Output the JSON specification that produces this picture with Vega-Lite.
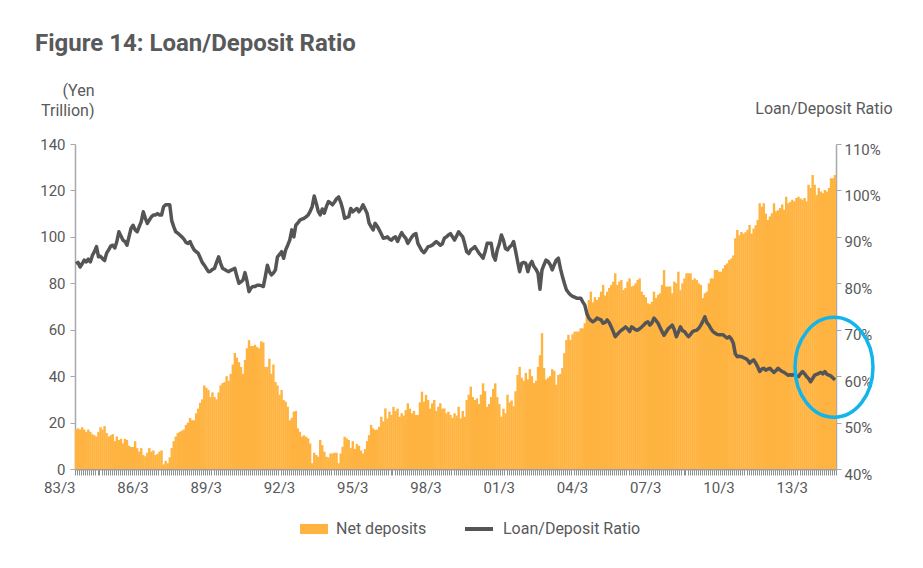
{
"$schema": "https://vega.github.io/schema/vega-lite/v6.json",
"width": 761, "height": 325,
"autosize": {"type": "none"},
"padding": {"left": 75, "top": 144, "right": 87, "bottom": 99},
"background": "white",
"config": {"view": {"stroke": null}, "font": "Roboto",
  "axis": {"labelFont": "Roboto", "titleFont": "Roboto", "labelColor": "#58595B", "titleColor": "#58595B", "grid": false, "domainColor": "#A7A9AC", "tickColor": "#A7A9AC", "domainWidth": 1.5, "labelFontSize": 15, "titleFontSize": 16, "titleFontWeight": "normal"},
  "legend": {"labelFont": "Roboto", "labelColor": "#58595B", "labelFontSize": 16}},
"title": {"text": "Figure 14: Loan/Deposit Ratio", "anchor": "start", "frame": "group", "dx": -40, "offset": 26, "fontSize": 24, "fontWeight": "bold", "color": "#58595B", "font": "Roboto"},
"data": {"values": [
{"d":"1983-03","n":17,"r":84.2},{"d":"1983-04","n":17.5,"r":84.5},{"d":"1983-05","n":17,"r":83.5},{"d":"1983-06","n":18,"r":84.2},{"d":"1983-07","n":17,"r":85},{"d":"1983-08","n":16,"r":84.6},{"d":"1983-09","n":17,"r":85.2},{"d":"1983-10","n":16,"r":84.6},{"d":"1983-11","n":15,"r":86},{"d":"1983-12","n":14.5,"r":86.8},
{"d":"1984-01","n":14,"r":87.9},{"d":"1984-02","n":16,"r":85.7},{"d":"1984-03","n":18,"r":85.8},{"d":"1984-04","n":17,"r":85.3},{"d":"1984-05","n":18.5,"r":84.9},{"d":"1984-06","n":15.5,"r":86.5},{"d":"1984-07","n":14,"r":87.2},{"d":"1984-08","n":14.5,"r":88},{"d":"1984-09","n":15,"r":88.2},{"d":"1984-10","n":12,"r":87.6},{"d":"1984-11","n":14,"r":89},{"d":"1984-12","n":12.5,"r":91.1},
{"d":"1985-01","n":13,"r":90.2},{"d":"1985-02","n":11,"r":89.3},{"d":"1985-03","n":13,"r":89},{"d":"1985-04","n":12.5,"r":88.2},{"d":"1985-05","n":10,"r":90},{"d":"1985-06","n":9.5,"r":91.8},{"d":"1985-07","n":9.5,"r":92.5},{"d":"1985-08","n":12,"r":91.5},{"d":"1985-09","n":9,"r":91.1},{"d":"1985-10","n":7.5,"r":92.2},{"d":"1985-11","n":9,"r":93.3},{"d":"1985-12","n":6,"r":95.4},
{"d":"1986-01","n":5.5,"r":94},{"d":"1986-02","n":7,"r":92.9},{"d":"1986-03","n":9,"r":93.6},{"d":"1986-04","n":7.5,"r":94.3},{"d":"1986-05","n":8,"r":94.7},{"d":"1986-06","n":6,"r":94.7},{"d":"1986-07","n":6.5,"r":95},{"d":"1986-08","n":7.5,"r":94.7},{"d":"1986-09","n":8,"r":94.7},{"d":"1986-10","n":2,"r":96.5},{"d":"1986-11","n":3.5,"r":96.9},{"d":"1986-12","n":2.5,"r":96.9},
{"d":"1987-01","n":5,"r":96.9},{"d":"1987-02","n":9,"r":93.5},{"d":"1987-03","n":12,"r":92.2},{"d":"1987-04","n":14,"r":91.1},{"d":"1987-05","n":15.5,"r":90.8},{"d":"1987-06","n":16,"r":90.4},{"d":"1987-07","n":16.5,"r":90},{"d":"1987-08","n":17,"r":89.5},{"d":"1987-09","n":19,"r":88.8},{"d":"1987-10","n":20,"r":88.6},{"d":"1987-11","n":22,"r":89},{"d":"1987-12","n":21,"r":88},
{"d":"1988-01","n":21,"r":87.2},{"d":"1988-02","n":24,"r":86.8},{"d":"1988-03","n":26,"r":86.5},{"d":"1988-04","n":28.5,"r":85.5},{"d":"1988-05","n":30,"r":84.5},{"d":"1988-06","n":36,"r":83.9},{"d":"1988-07","n":35,"r":83.2},{"d":"1988-08","n":34,"r":82.5},{"d":"1988-09","n":31,"r":82.6},{"d":"1988-10","n":33,"r":83},{"d":"1988-11","n":31,"r":83.2},{"d":"1988-12","n":30,"r":84.5},
{"d":"1989-01","n":33,"r":85.7},{"d":"1989-02","n":36,"r":84.3},{"d":"1989-03","n":37,"r":83.2},{"d":"1989-04","n":37.5,"r":83},{"d":"1989-05","n":40,"r":82.7},{"d":"1989-06","n":38,"r":82.5},{"d":"1989-07","n":41,"r":82.8},{"d":"1989-08","n":45,"r":83},{"d":"1989-09","n":50,"r":83.2},{"d":"1989-10","n":48,"r":81.5},{"d":"1989-11","n":46,"r":80},{"d":"1989-12","n":44,"r":80.3},
{"d":"1990-01","n":41,"r":80.7},{"d":"1990-02","n":47,"r":82.3},{"d":"1990-03","n":52,"r":80.5},{"d":"1990-04","n":55.5,"r":78.2},{"d":"1990-05","n":53,"r":79},{"d":"1990-06","n":53,"r":79.3},{"d":"1990-07","n":53.5,"r":79.3},{"d":"1990-08","n":52.5,"r":79.6},{"d":"1990-09","n":52,"r":79.6},{"d":"1990-10","n":55,"r":79.5},{"d":"1990-11","n":54.5,"r":79.3},{"d":"1990-12","n":44,"r":81.5},
{"d":"1991-01","n":44,"r":83.9},{"d":"1991-02","n":47.5,"r":82.5},{"d":"1991-03","n":41,"r":81.8},{"d":"1991-04","n":45,"r":82.2},{"d":"1991-05","n":37.5,"r":82.9},{"d":"1991-06","n":36,"r":85.7},{"d":"1991-07","n":32,"r":86.2},{"d":"1991-08","n":34,"r":86.8},{"d":"1991-09","n":29.7,"r":85.4},{"d":"1991-10","n":29,"r":87.2},{"d":"1991-11","n":26.8,"r":88.2},{"d":"1991-12","n":21,"r":89.3},
{"d":"1992-01","n":22,"r":91.5},{"d":"1992-02","n":24.7,"r":90},{"d":"1992-03","n":25,"r":92.5},{"d":"1992-04","n":17.5,"r":93},{"d":"1992-05","n":16,"r":93.6},{"d":"1992-06","n":14,"r":93.8},{"d":"1992-07","n":14.5,"r":94},{"d":"1992-08","n":13.9,"r":94.3},{"d":"1992-09","n":13.2,"r":94.7},{"d":"1992-10","n":11,"r":95.5},{"d":"1992-11","n":2.5,"r":96.5},{"d":"1992-12","n":7,"r":98.8},
{"d":"1993-01","n":6,"r":97.2},{"d":"1993-02","n":5.3,"r":95.5},{"d":"1993-03","n":12.5,"r":94.7},{"d":"1993-04","n":10.3,"r":96},{"d":"1993-05","n":7.5,"r":95.1},{"d":"1993-06","n":5.3,"r":96.5},{"d":"1993-07","n":5,"r":97.6},{"d":"1993-08","n":6.7,"r":97.3},{"d":"1993-09","n":6.7,"r":96.9},{"d":"1993-10","n":7,"r":97.5},{"d":"1993-11","n":7,"r":98.2},{"d":"1993-12","n":2.5,"r":98.6},
{"d":"1994-01","n":6.7,"r":97.5},{"d":"1994-02","n":9.6,"r":96},{"d":"1994-03","n":13.9,"r":94},{"d":"1994-04","n":13.2,"r":94.2},{"d":"1994-05","n":12.5,"r":94.3},{"d":"1994-06","n":9,"r":96.1},{"d":"1994-07","n":12,"r":95.4},{"d":"1994-08","n":8.6,"r":95.8},{"d":"1994-09","n":10.8,"r":96.1},{"d":"1994-10","n":10,"r":95.4},{"d":"1994-11","n":8,"r":96},{"d":"1994-12","n":6.7,"r":96.9},
{"d":"1995-01","n":8.6,"r":96},{"d":"1995-02","n":12,"r":95.1},{"d":"1995-03","n":14.6,"r":93},{"d":"1995-04","n":19,"r":92.2},{"d":"1995-05","n":17.5,"r":91.5},{"d":"1995-06","n":16.8,"r":92.9},{"d":"1995-07","n":17,"r":92.3},{"d":"1995-08","n":18.2,"r":91.5},{"d":"1995-09","n":22.5,"r":90.6},{"d":"1995-10","n":20.5,"r":89.7},{"d":"1995-11","n":26.1,"r":89.8},{"d":"1995-12","n":21.8,"r":90},
{"d":"1996-01","n":24.7,"r":89.5},{"d":"1996-02","n":23.3,"r":89.3},{"d":"1996-03","n":26.8,"r":89.8},{"d":"1996-04","n":25,"r":90},{"d":"1996-05","n":26,"r":89},{"d":"1996-06","n":22.5,"r":90},{"d":"1996-07","n":24,"r":90.9},{"d":"1996-08","n":23,"r":90.2},{"d":"1996-09","n":25.4,"r":89.7},{"d":"1996-10","n":28.3,"r":88.6},{"d":"1996-11","n":26,"r":89.3},{"d":"1996-12","n":24,"r":90},
{"d":"1997-01","n":25,"r":90.5},{"d":"1997-02","n":23.3,"r":90.7},{"d":"1997-03","n":23.3,"r":88.6},{"d":"1997-04","n":28.7,"r":87.8},{"d":"1997-05","n":33.3,"r":87},{"d":"1997-06","n":29,"r":86.6},{"d":"1997-07","n":31.9,"r":87.2},{"d":"1997-08","n":29.7,"r":87.9},{"d":"1997-09","n":26,"r":88},{"d":"1997-10","n":28.3,"r":88.2},{"d":"1997-11","n":29.7,"r":88.6},{"d":"1997-12","n":25,"r":89},
{"d":"1998-01","n":26.8,"r":88.6},{"d":"1998-02","n":28.3,"r":88.2},{"d":"1998-03","n":26,"r":88.5},{"d":"1998-04","n":26.1,"r":89.7},{"d":"1998-05","n":24,"r":90},{"d":"1998-06","n":24.7,"r":90.4},{"d":"1998-07","n":23.3,"r":90.7},{"d":"1998-08","n":22,"r":90},{"d":"1998-09","n":24,"r":89.3},{"d":"1998-10","n":23,"r":90.2},{"d":"1998-11","n":26.8,"r":91.1},{"d":"1998-12","n":21.8,"r":90.5},
{"d":"1999-01","n":25,"r":90},{"d":"1999-02","n":22.5,"r":88.5},{"d":"1999-03","n":29.7,"r":86.8},{"d":"1999-04","n":32,"r":86.4},{"d":"1999-05","n":35.5,"r":87.2},{"d":"1999-06","n":31,"r":87.5},{"d":"1999-07","n":29.7,"r":87.9},{"d":"1999-08","n":30.4,"r":87.2},{"d":"1999-09","n":28,"r":86.5},{"d":"1999-10","n":32,"r":86},{"d":"1999-11","n":36.9,"r":85.4},{"d":"1999-12","n":33.5,"r":86.8},
{"d":"2000-01","n":26.8,"r":88.6},{"d":"2000-02","n":28,"r":88.6},{"d":"2000-03","n":31,"r":88.6},{"d":"2000-04","n":34.5,"r":86},{"d":"2000-05","n":36.9,"r":85},{"d":"2000-06","n":31,"r":87.2},{"d":"2000-07","n":28,"r":88.5},{"d":"2000-08","n":22.5,"r":90.4},{"d":"2000-09","n":26,"r":89.3},{"d":"2000-10","n":24,"r":87.5},{"d":"2000-11","n":32,"r":87.2},{"d":"2000-12","n":28.7,"r":87.8},
{"d":"2001-01","n":29.5,"r":88.2},{"d":"2001-02","n":27,"r":89},{"d":"2001-03","n":33.5,"r":87},{"d":"2001-04","n":40.5,"r":84.7},{"d":"2001-05","n":44,"r":82.5},{"d":"2001-06","n":39.3,"r":84.3},{"d":"2001-07","n":38,"r":84.5},{"d":"2001-08","n":41.4,"r":84.3},{"d":"2001-09","n":38.6,"r":82.5},{"d":"2001-10","n":43,"r":84},{"d":"2001-11","n":40,"r":84.7},{"d":"2001-12","n":37,"r":83.6},
{"d":"2002-01","n":38,"r":83},{"d":"2002-02","n":44,"r":82.2},{"d":"2002-03","n":49,"r":78.7},{"d":"2002-04","n":58.5,"r":82.9},{"d":"2002-05","n":43.5,"r":84},{"d":"2002-06","n":38.6,"r":85},{"d":"2002-07","n":39.3,"r":84.7},{"d":"2002-08","n":40,"r":84},{"d":"2002-09","n":43,"r":82.9},{"d":"2002-10","n":42.3,"r":84},{"d":"2002-11","n":36.3,"r":85},{"d":"2002-12","n":40.5,"r":85.4},
{"d":"2003-01","n":41,"r":83.2},{"d":"2003-02","n":43.5,"r":81.5},{"d":"2003-03","n":49.9,"r":80},{"d":"2003-04","n":55.6,"r":78.6},{"d":"2003-05","n":57.8,"r":78},{"d":"2003-06","n":55.6,"r":77.5},{"d":"2003-07","n":58,"r":77.2},{"d":"2003-08","n":59.2,"r":77},{"d":"2003-09","n":59.2,"r":76.8},{"d":"2003-10","n":59.2,"r":76.8},{"d":"2003-11","n":60.6,"r":76.8},{"d":"2003-12","n":60.6,"r":76},
{"d":"2004-01","n":62.8,"r":75.3},{"d":"2004-02","n":68.5,"r":73.5},{"d":"2004-03","n":72.8,"r":72.5},{"d":"2004-04","n":76.4,"r":72},{"d":"2004-05","n":71.8,"r":71.7},{"d":"2004-06","n":74,"r":72},{"d":"2004-07","n":72.8,"r":72.5},{"d":"2004-08","n":74,"r":72.3},{"d":"2004-09","n":76.4,"r":72.1},{"d":"2004-10","n":79.3,"r":71.4},{"d":"2004-11","n":74.7,"r":71.6},{"d":"2004-12","n":76.4,"r":72.1},
{"d":"2005-01","n":78,"r":71.5},{"d":"2005-02","n":79.3,"r":70.6},{"d":"2005-03","n":80.7,"r":69.6},{"d":"2005-04","n":84.3,"r":68.5},{"d":"2005-05","n":79.3,"r":69},{"d":"2005-06","n":80.7,"r":69.5},{"d":"2005-07","n":81.4,"r":69.9},{"d":"2005-08","n":77.1,"r":70.2},{"d":"2005-09","n":78,"r":70.6},{"d":"2005-10","n":80.7,"r":70.2},{"d":"2005-11","n":82.1,"r":69.6},{"d":"2005-12","n":78.6,"r":70.6},
{"d":"2006-01","n":79,"r":70.3},{"d":"2006-02","n":80,"r":70},{"d":"2006-03","n":81.4,"r":69.9},{"d":"2006-04","n":82.1,"r":70.2},{"d":"2006-05","n":76.4,"r":70.6},{"d":"2006-06","n":75,"r":71},{"d":"2006-07","n":74,"r":71.5},{"d":"2006-08","n":71.4,"r":71.7},{"d":"2006-09","n":71,"r":71},{"d":"2006-10","n":72,"r":71.5},{"d":"2006-11","n":76.4,"r":72.5},{"d":"2006-12","n":73.7,"r":72},
{"d":"2007-01","n":75,"r":71.4},{"d":"2007-02","n":75.7,"r":70.5},{"d":"2007-03","n":79.3,"r":69.6},{"d":"2007-04","n":85.7,"r":68.8},{"d":"2007-05","n":78.6,"r":69.5},{"d":"2007-06","n":78.6,"r":70.2},{"d":"2007-07","n":78.6,"r":70.6},{"d":"2007-08","n":75.7,"r":71},{"d":"2007-09","n":80.7,"r":70},{"d":"2007-10","n":80,"r":68.5},{"d":"2007-11","n":85,"r":69.5},{"d":"2007-12","n":77,"r":70.6},
{"d":"2008-01","n":80,"r":69.8},{"d":"2008-02","n":82.1,"r":69.6},{"d":"2008-03","n":84.3,"r":69},{"d":"2008-04","n":84.3,"r":68.5},{"d":"2008-05","n":84.3,"r":69},{"d":"2008-06","n":81.4,"r":69.6},{"d":"2008-07","n":82.1,"r":69.8},{"d":"2008-08","n":81.4,"r":69.9},{"d":"2008-09","n":80,"r":70.3},{"d":"2008-10","n":79.3,"r":71},{"d":"2008-11","n":73.7,"r":71.8},{"d":"2008-12","n":75.7,"r":72.8},
{"d":"2009-01","n":76.4,"r":71.5},{"d":"2009-02","n":80,"r":71},{"d":"2009-03","n":82.1,"r":70.2},{"d":"2009-04","n":82.1,"r":69.6},{"d":"2009-05","n":85.7,"r":69.3},{"d":"2009-06","n":85.7,"r":69},{"d":"2009-07","n":85,"r":68.9},{"d":"2009-08","n":85,"r":68.9},{"d":"2009-09","n":86.4,"r":68.9},{"d":"2009-10","n":87.9,"r":68.5},{"d":"2009-11","n":88.6,"r":68.2},{"d":"2009-12","n":90,"r":68.5},
{"d":"2010-01","n":90.7,"r":68},{"d":"2010-02","n":92,"r":67.1},{"d":"2010-03","n":99.4,"r":64.8},{"d":"2010-04","n":103,"r":64.2},{"d":"2010-05","n":100.7,"r":64.3},{"d":"2010-06","n":102.1,"r":64.2},{"d":"2010-07","n":101.4,"r":64},{"d":"2010-08","n":102,"r":63.8},{"d":"2010-09","n":103,"r":63.5},{"d":"2010-10","n":105.1,"r":62.8},{"d":"2010-11","n":101.4,"r":63.2},{"d":"2010-12","n":103.6,"r":63.5},
{"d":"2011-01","n":105,"r":62.8},{"d":"2011-02","n":107.3,"r":62},{"d":"2011-03","n":114.5,"r":61},{"d":"2011-04","n":113,"r":61.5},{"d":"2011-05","n":114.5,"r":61.7},{"d":"2011-06","n":110,"r":61.3},{"d":"2011-07","n":107.3,"r":61.5},{"d":"2011-08","n":108.8,"r":61.7},{"d":"2011-09","n":110.2,"r":61.2},{"d":"2011-10","n":114.5,"r":60.8},{"d":"2011-11","n":111,"r":61.2},{"d":"2011-12","n":111.5,"r":61.7},
{"d":"2012-01","n":112.4,"r":61.3},{"d":"2012-02","n":113.9,"r":61},{"d":"2012-03","n":111.7,"r":60.8},{"d":"2012-04","n":117.3,"r":60.5},{"d":"2012-05","n":114.5,"r":60.2},{"d":"2012-06","n":115,"r":60.3},{"d":"2012-07","n":116,"r":60.2},{"d":"2012-08","n":115.3,"r":60.4},{"d":"2012-09","n":116.7,"r":60},{"d":"2012-10","n":117.3,"r":59.9},{"d":"2012-11","n":116.5,"r":60.5},{"d":"2012-12","n":116,"r":61},
{"d":"2013-01","n":116.7,"r":60.5},{"d":"2013-02","n":115.3,"r":59.9},{"d":"2013-03","n":122.4,"r":59.5},{"d":"2013-04","n":121,"r":58.8},{"d":"2013-05","n":126.7,"r":59.5},{"d":"2013-06","n":122.4,"r":60.2},{"d":"2013-07","n":118,"r":60.4},{"d":"2013-08","n":121,"r":60.6},{"d":"2013-09","n":119.5,"r":60.8},{"d":"2013-10","n":118.8,"r":60.5},{"d":"2013-11","n":120.2,"r":61},{"d":"2013-12","n":119.5,"r":60.4},
{"d":"2014-01","n":121,"r":60.2},{"d":"2014-02","n":125.2,"r":60},{"d":"2014-03","n":125.2,"r":59.6},{"d":"2014-04","n":126.7,"r":59.2}
]},
"layer": [
  {"mark": {"type": "bar", "width": 2.4},
   "encoding": {
     "x": {"field": "d", "timeUnit": "utcyearmonth", "type": "temporal",
       "scale": {"domain": [{"year": 1983, "month": 3, "date": 1, "utc": true}, {"year": 2014, "month": 5, "date": 1, "utc": true}]},
       "axis": {"orient": "bottom", "title": null, "tickCount": {"interval": "month", "step": 1},
         "labelExpr": "utcmonth(datum.value) == 2 && (utcyear(datum.value) - 1983) % 3 == 0 ? utcFormat(datum.value, '%y/%-m') : ''",
         "labelAlign": "right", "labelOverlap": false, "labelFlush": false, "labelBound": false, "labelPadding": 5, "tickSize": 6, "tickColor": "#8C8E91", "tickWidth": 1, "domainColor": "#9D9FA2", "domainWidth": 2}},
     "y": {"field": "n", "type": "quantitative", "scale": {"domain": [0, 140]},
       "axis": {"orient": "left", "values": [0, 20, 40, 60, 80, 100, 120, 140], "tickSize": 5, "labelPadding": 5,
         "title": ["(Yen", "Trillion)"], "titleAngle": 0, "titleAlign": "right", "titleBaseline": "middle", "titleX": 19, "titleY": -54, "titleLineHeight": 20}},
     "fill": {"datum": "Net deposits", "type": "nominal", "scale": {"range": ["#FFB340"]},
       "legend": {"orient": "none", "legendX": 225, "legendY": 371, "title": null, "symbolType": "M-1,-0.36H1V0.36H-1Z", "symbolSize": 784, "symbolStrokeWidth": 0, "labelOffset": 8}}
   }},
  {"layer": [
    {"mark": {"type": "line", "strokeWidth": 3.5, "strokeJoin": "round"},
     "encoding": {
       "x": {"field": "d", "timeUnit": "utcyearmonth", "type": "temporal", "bandPosition": 0.5},
       "y": {"field": "r", "type": "quantitative", "scale": {"domain": [40, 110]},
         "axis": {"orient": "right", "values": [40, 50, 60, 70, 80, 90, 100, 110], "labelExpr": "datum.value + '%'", "labelOffset": 5, "tickSize": 5, "labelPadding": 3,
           "title": "Loan/Deposit Ratio", "titleAngle": 0, "titleAlign": "right", "titleBaseline": "middle", "titleX": 56, "titleY": -36}},
       "stroke": {"datum": "Loan/Deposit Ratio", "type": "nominal", "scale": {"range": ["#555557"]},
         "legend": {"orient": "none", "legendX": 388, "legendY": 369, "title": null, "symbolType": "stroke", "symbolSize": 784, "symbolStrokeWidth": 4, "labelOffset": 8}}
     }},
    {"data": {"values": [{}]},
     "mark": {"type": "point", "shape": "M -0.78 0 A 0.78 1 0 1 0 0.78 0 A 0.78 1 0 1 0 -0.78 0 Z", "size": 10000, "stroke": "#12B5EA", "strokeWidth": 3.5, "filled": false, "opacity": 1},
     "encoding": {
       "x": {"datum": {"year": 2014, "month": 4, "date": 1, "utc": true}, "type": "temporal"},
       "y": {"datum": 61.9, "type": "quantitative"}
     }}
  ]}
],
"resolve": {"scale": {"y": "independent"}}
}
